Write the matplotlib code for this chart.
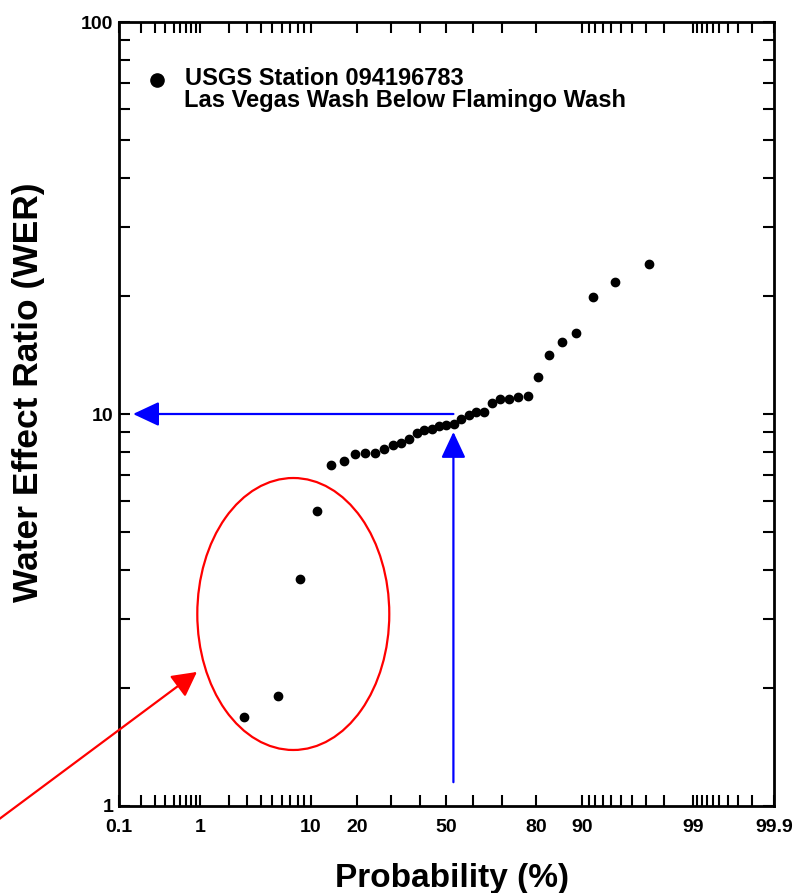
import numpy as np
import matplotlib
matplotlib.use('Agg')
import matplotlib.pyplot as plt
from matplotlib.patches import Ellipse
from statistics import NormalDist

plt.rcParams['font.family'] = ['Liberation Sans', 'DejaVu Sans']
plt.rcParams['font.weight'] = 'bold'

# plotting position (%) and water effect ratio of each sample
prob = [2.78, 5.56, 8.33, 11.11, 13.89, 16.67, 19.44, 22.22, 25.0, 27.78,
        30.56, 33.33, 36.11, 38.89, 41.67, 44.44, 47.22, 50.0, 52.78, 55.56,
        58.33, 61.11, 63.89, 66.67, 69.44, 72.22, 75.0, 77.78, 80.56, 83.33,
        86.11, 88.89, 91.67, 94.44, 97.22]
wer = [1.69, 1.91, 3.80, 5.67, 7.43, 7.59, 7.91, 7.94, 7.94, 8.14,
       8.34, 8.42, 8.64, 8.97, 9.08, 9.18, 9.30, 9.36, 9.42, 9.73,
       9.94, 10.09, 10.09, 10.69, 10.92, 10.92, 11.07, 11.14, 12.45, 14.11,
       15.27, 16.12, 19.89, 21.67, 24.13]

xmajor = [0.1, 1, 10, 20, 50, 80, 90, 99, 99.9]
xmajor_lab = ['0.1', '1', '10', '20', '50', '80', '90', '99', '99.9']
xminor = [0.2, 0.3, 0.4, 0.5, 0.6, 0.7, 0.8, 0.9,
          2, 3, 4, 5, 6, 7, 8, 9, 30, 40, 60, 70,
          91, 92, 93, 94, 95, 96, 97, 98,
          99.1, 99.2, 99.3, 99.4, 99.5, 99.6, 99.7, 99.8]
ymajor = [1, 10, 100]
yminor = [2, 3, 4, 5, 6, 7, 8, 9, 20, 30, 40, 50, 60, 70, 80, 90]

# median read-off (blue arrows)
p_med = 52.6
wer_med = 10.0

nd = NormalDist()
_ppf = np.vectorize(nd.inv_cdf, otypes=[float])
_cdf = np.vectorize(nd.cdf, otypes=[float])


def fwd(p):
    p = np.clip(np.asarray(p, dtype=float) / 100.0, 1e-9, 1 - 1e-9)
    return _ppf(p)


def inv(z):
    return _cdf(np.asarray(z, dtype=float)) * 100.0


fig = plt.figure(figsize=(7.96, 8.93), dpi=100)
ax = fig.add_axes([119 / 796, 87 / 893, 655 / 796, 784 / 893])
ax.set_xscale('function', functions=(fwd, inv))
ax.set_yscale('log')
ax.set_xlim(0.1, 99.9)
ax.set_ylim(1, 100)

ax.plot(prob, wer, 'o', color='black', ms=6, ls='none', zorder=3)

ax.set_xticks(xmajor)
ax.set_xticklabels(xmajor_lab)
ax.set_xticks(xminor, minor=True)
ax.set_xticklabels([], minor=True)
ax.set_yticks(ymajor)
ax.set_yticklabels([str(v) for v in ymajor])
ax.set_yticks(yminor, minor=True)
ax.set_yticklabels([], minor=True)

ax.tick_params(which='both', direction='in', top=True, right=True,
               length=8, width=1.5, labelsize=14)
ax.tick_params(axis='x', which='major', pad=9)
ax.tick_params(axis='y', which='major', pad=4)
for lab in ax.get_yticklabels():
    lab.set_va('center_baseline')
for s in ax.spines.values():
    s.set_linewidth(2)

# legend entry
ax.plot([0.058], [0.926], 'o', color='black', ms=9.5, transform=ax.transAxes)
ax.text(0.101, 0.9285, 'USGS Station 094196783', transform=ax.transAxes,
        fontsize=17, va='center', ha='left')
ax.text(0.100, 0.8995, 'Las Vegas Wash Below Flamingo Wash', transform=ax.transAxes,
        fontsize=17, va='center', ha='left')

# blue arrows
ax.annotate('', xy=(0.155, wer_med), xytext=(p_med, wer_med),
            arrowprops=dict(arrowstyle='-|>,head_length=16,head_width=7.5',
                            mutation_scale=1, color='blue', lw=1.6,
                            shrinkA=0, shrinkB=0))
ax.annotate('', xy=(p_med, 9.0), xytext=(p_med, 1.15),
            arrowprops=dict(arrowstyle='-|>,head_length=16,head_width=7.5',
                            mutation_scale=1, color='blue', lw=1.6,
                            shrinkA=0, shrinkB=0))

# red ellipse and arrow
ax.add_patch(Ellipse((0.2661, 0.2449), 0.2931, 0.3469, transform=ax.transAxes,
                     fill=False, edgecolor='red', lw=1.6))
ax.annotate('', xy=(0.119, 0.171), xytext=(-0.185, -0.018),
            xycoords='axes fraction', textcoords='axes fraction',
            annotation_clip=False,
            arrowprops=dict(arrowstyle='-|>,head_length=15,head_width=8',
                            mutation_scale=1, color='red', lw=1.6,
                            shrinkA=0, shrinkB=0))

fig.text(29 / 796, 1 - 392 / 893, 'Water Effect Ratio (WER)', rotation=90,
         ha='center', va='center', fontsize=25.5)
fig.text(452 / 796, 1 - 879 / 893, 'Probability (%)', ha='center', va='center',
         fontsize=24)

fig.savefig('out.png', dpi=100, facecolor='white')
